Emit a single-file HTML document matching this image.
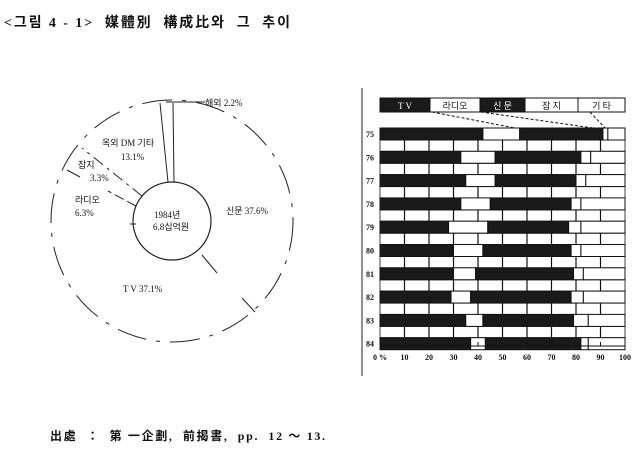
<!DOCTYPE html>
<html><head><meta charset="utf-8">
<style>
html,body{margin:0;padding:0;background:#fff;}
body{width:636px;height:458px;overflow:hidden;position:relative;font-family:"Liberation Serif","Noto Serif CJK SC","Noto Sans CJK KR",serif;color:#111;}
svg{position:absolute;left:0;top:0;}
</style></head><body>
<svg id="s" width="636" height="458" viewBox="0 0 636 458" font-family="Liberation Serif, Noto Sans CJK KR, serif" fill="#111">
<text x="4" y="27" font-size="14" font-weight="bold" textLength="286" lengthAdjust="spacing" xml:space="preserve">&lt;그림 4 - 1&gt;  媒體別  構成比와  그  추이</text>
<!-- pie -->
<circle cx="172" cy="221" r="121" fill="none" stroke="#222" stroke-width="1" stroke-dasharray="30 10 4 10"/>
<circle cx="172" cy="221" r="39" fill="none" stroke="#222" stroke-width="1.2"/>
<line x1="168" y1="182" x2="160" y2="103" stroke="#222"/>
<line x1="174" y1="182" x2="173" y2="103" stroke="#222"/>
<line x1="166" y1="102" x2="205" y2="102" stroke="#222"/>
<line x1="202" y1="255" x2="217" y2="273" stroke="#222"/>
<line x1="242" y1="298" x2="255" y2="312" stroke="#222"/>
<line x1="136" y1="224" x2="130" y2="224" stroke="#222"/>
<line x1="136" y1="206" x2="108" y2="191" stroke="#222" stroke-dasharray="10 4"/>
<line x1="142" y1="196" x2="82" y2="148" stroke="#222" stroke-dasharray="12 5 3 5"/>
<line x1="67" y1="170" x2="80" y2="177" stroke="#222"/>
<text x="205" y="106" font-size="9">해외 2.2%</text>
<text x="102" y="146" font-size="9">옥외 DM 기타</text>
<text x="121" y="160" font-size="9">13.1%</text>
<text x="78" y="168" font-size="9">잡지</text>
<text x="90" y="181" font-size="9">3.3%</text>
<text x="75" y="203" font-size="9">라디오</text>
<text x="75" y="216" font-size="9">6.3%</text>
<text x="226" y="214" font-size="9">신문 37.6%</text>
<text x="154" y="218" font-size="9">1984년</text>
<text x="153" y="230" font-size="9">6.8십억원</text>
<text x="123" y="292" font-size="9">T V  37.1%</text>
<!-- bar chart -->
<line x1="362" y1="88" x2="362" y2="376" stroke="#222"/>
<g id="bars"></g>
<text x="50" y="440" font-size="12" font-weight="bold" textLength="275" lengthAdjust="spacing" xml:space="preserve">出處  ：  第 一企劃,  前揭書,  pp.  12 ～ 13.</text>
</svg>
<script>
var g=document.getElementById('bars'),NS='http://www.w3.org/2000/svg';
function el(t,a,txt){var e=document.createElementNS(NS,t);for(var k in a)e.setAttribute(k,a[k]);if(txt)e.textContent=txt;g.appendChild(e);return e;}
var x0=380,x1=625,W=x1-x0;function X(p){return x0+W*p/100;}
var L=[[380,430,1,'T  V'],[430,480,0,'라디오'],[480,525,1,'신 문'],[525,578,0,'잡 지'],[578,625,0,'기 타']];
L.forEach(function(l){el('rect',{x:l[0],y:98,width:l[1]-l[0],height:14,fill:l[2]?'#1a1a1a':'#fff',stroke:'#111'});
el('text',{x:(l[0]+l[1])/2,y:109,'font-size':9,'text-anchor':'middle',fill:l[2]?'#fff':'#111'},l[3]);});
el('line',{x1:432,y1:112,x2:520,y2:129,stroke:'#111','stroke-dasharray':'3 2'});
el('line',{x1:481,y1:112,x2:600,y2:129,stroke:'#111','stroke-dasharray':'3 2'});
el('line',{x1:590,y1:112,x2:606,y2:129,stroke:'#111','stroke-dasharray':'3 2'});
var D=[['75',42,57,91,93],['76',33,47,82,86],['77',35,47,80,84],['78',33,45,78,82],['79',28,44,77,82],['80',30,42,78,82],['81',30,39,79,83],['82',29,37,78,83],['83',35,42,79,85],['84',37,43,82,85]];
D.forEach(function(d,i){var y=128+23.3*i,h=12;
 var b=[0,d[1],d[2],d[3],d[4],100],f=['#1a1a1a','#fff','#1a1a1a','#fff','#fff'];
 for(var j=0;j<5;j++)el('rect',{x:X(b[j]),y:y,width:X(b[j+1])-X(b[j]),height:h,fill:f[j],stroke:'#111','stroke-width':1});
 el('text',{x:366,y:y+9,'font-size':8,'font-weight':'bold'},d[0]);
 if(i<9){var yy=y+h,hh=11.3;el('rect',{x:x0,y:yy,width:W,height:hh,fill:'none',stroke:'#111','stroke-width':0.8});
  for(var p=10;p<100;p+=10){el('line',{x1:X(p),y1:yy,x2:X(p),y2:yy+hh,stroke:'#111','stroke-width':1.2});}}
});
el('line',{x1:x0,y1:346,x2:x1,y2:346,stroke:'#111'});
var lab=['0 %','10','20','30','40','50','60','70','80','90','100'];
lab.forEach(function(t,i){el('line',{x1:X(i*10),y1:342,x2:X(i*10),y2:346,stroke:'#111'});el('text',{x:X(i*10),y:360,'font-size':8,'font-weight':'bold','text-anchor':'middle'},t);});
</script>
</body></html>
